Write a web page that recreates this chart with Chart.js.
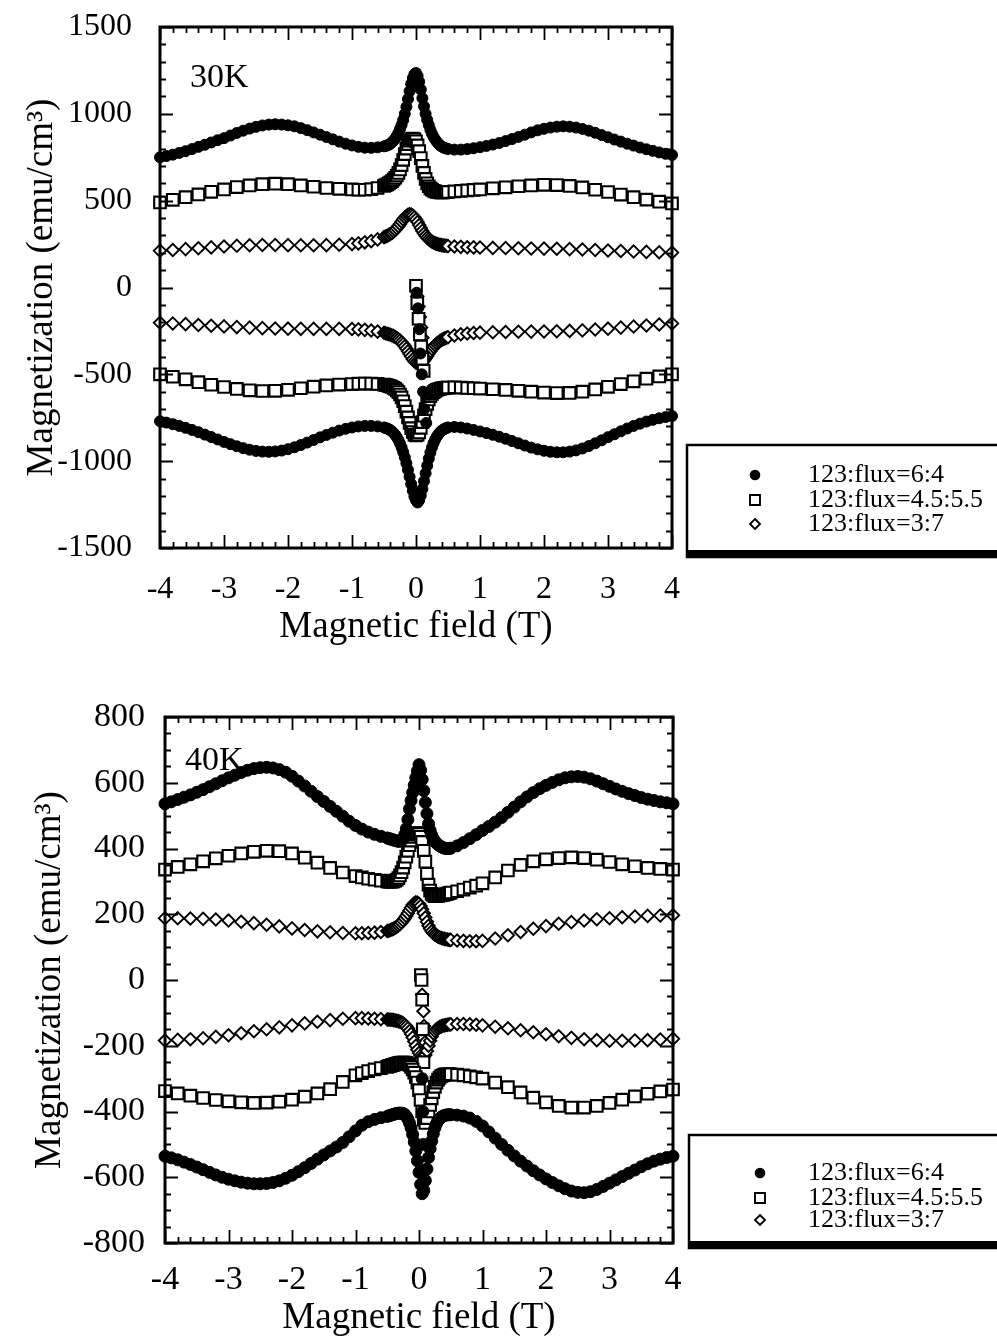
<!DOCTYPE html>
<html>
<head>
<meta charset="utf-8">
<title>Magnetization loops 30K / 40K</title>
<script src="https://cdn.jsdelivr.net/npm/chart.js@4.4.1/dist/chart.umd.min.js"></script>
<style>
  body { margin: 0; background: #fff; width: 997px; height: 1340px; overflow: hidden; position: relative; }
  canvas { position: absolute; left: 0; }
  #c30 { top: 0; }
  #c40 { top: 680px; }
</style>
</head>
<body>
<canvas id="c30" width="997" height="665"></canvas>
<canvas id="c40" width="997" height="660"></canvas>
<script>
// ---------------- DATA ----------------
const seriesNames = ["123:flux=6:4", "123:flux=4.5:5.5", "123:flux=3:7"];
const xTicks = [-4, -3, -2, -1, 0, 1, 2, 3, 4];
const yTicks30 = [-1500, -1000, -500, 0, 500, 1000, 1500];
const yTicks40 = [-800, -600, -400, -200, 0, 200, 400, 600, 800];

// field grid for the dense (filled circle) runs, in T
const fieldFine = [
  -4, -3.9, -3.8, -3.7, -3.6, -3.5, -3.4, -3.3, -3.2, -3.1, -3, -2.9, -2.8, -2.7, -2.6, -2.5, -2.4, -2.3, -2.2, -2.1, -2, -1.9, -1.8, -1.7, -1.6, -1.5, -1.4, -1.3, -1.2, -1.1,
  -1, -0.9, -0.8, -0.7, -0.6,
  -0.5, -0.475, -0.45, -0.425, -0.4, -0.375, -0.35, -0.325, -0.3, -0.275, -0.25, -0.225, -0.2, -0.175, -0.15, -0.125, -0.1, -0.075, -0.05, -0.025, 0,
  0.025, 0.05, 0.075, 0.1, 0.125, 0.15, 0.175, 0.2, 0.225, 0.25, 0.275, 0.3, 0.325, 0.35, 0.375, 0.4, 0.425, 0.45, 0.475, 0.5,
  0.6, 0.7, 0.8, 0.9, 1,
  1.1, 1.2, 1.3, 1.4, 1.5, 1.6, 1.7, 1.8, 1.9, 2, 2.1, 2.2, 2.3, 2.4, 2.5, 2.6, 2.7, 2.8, 2.9, 3, 3.1, 3.2, 3.3, 3.4, 3.5, 3.6, 3.7, 3.8, 3.9, 4
];
// field grid for the open square / diamond runs, in T
const fieldCoarse = [
  -4, -3.8, -3.6, -3.4, -3.2, -3, -2.8, -2.6, -2.4, -2.2, -2, -1.8, -1.6, -1.4, -1.2,
  -1, -0.9, -0.8, -0.7, -0.6,
  -0.5, -0.475, -0.45, -0.425, -0.4, -0.375, -0.35, -0.325, -0.3, -0.275, -0.25, -0.225, -0.2, -0.175, -0.15, -0.125, -0.1, -0.075, -0.05, -0.025, 0,
  0.025, 0.05, 0.075, 0.1, 0.125, 0.15, 0.175, 0.2, 0.225, 0.25, 0.275, 0.3, 0.325, 0.35, 0.375, 0.4, 0.425, 0.45, 0.475, 0.5,
  0.6, 0.7, 0.8, 0.9, 1,
  1.2, 1.4, 1.6, 1.8, 2, 2.2, 2.4, 2.6, 2.8, 3, 3.2, 3.4, 3.6, 3.8, 4
];

// ---- 30K (emu/cm3) ----
const circ30Up = [
  750, 757, 765, 775, 785, 797, 810, 822, 835, 848, 860, 875, 890, 903, 915, 925, 933, 938, 940, 938, 934, 928, 918, 906, 893, 880, 866, 853, 840, 828,
  818, 810, 805, 804, 807,
  813, 815, 818, 822, 828, 836, 845, 857, 872, 890, 912, 936, 965, 1000, 1040, 1085, 1130, 1172, 1205, 1228, 1235,
  1218, 1185, 1140, 1090, 1043, 1000, 965, 935, 908, 885, 867, 852, 839, 828, 819, 812, 807, 803, 800, 798,
  794, 794, 797, 802, 808,
  815, 823, 832, 843, 855, 867, 880, 893, 905, 914, 921, 926, 928, 926, 921, 913, 903, 891, 878, 865, 852, 840, 828, 817, 806, 796, 787, 778, 770, 763
];
const circ30Down = [
  -770, -778, -787, -797, -808, -820, -833, -847, -861, -875, -889, -902, -914, -925, -934, -941, -945, -946, -944, -939, -931, -920, -907, -893, -878, -863, -849, -836, -824, -814,
  -806, -800, -797, -797, -800,
  -806, -809, -812, -816, -822, -829, -838, -849, -862, -878, -898, -921, -948, -978, -1012, -1050, -1090, -1132, -1170, -1203, -1225,
  -1238, -1225, -1197, -1160, -1115, -1070, -1026, -985, -950, -920, -895, -875, -858, -845, -834, -825, -818, -813, -809, -806,
  -803, -806, -812, -820, -829,
  -838, -848, -859, -871, -884, -897, -910, -922, -932, -940, -946, -949, -949, -945, -938, -927, -913, -897, -880, -862, -845, -828, -812, -797, -784, -772, -762, -753, -746, -740
];
const sq30Up = [
  490, 505, 520, 536, 551, 565, 578, 588, 595, 598, 595, 588, 580, 573, 568,
  565, 563, 563, 566, 573,
  585, 589, 594, 600, 606, 613, 622, 632, 645, 660, 680, 705, 735, 768, 800, 826, 845, 855, 858, 853, 842,
  818, 785, 745, 700, 660, 625, 600, 583, 571, 563, 557, 553, 551, 549, 548, 548, 548, 549, 549, 550,
  553, 556, 559, 562, 565,
  571, 577, 583, 588, 591, 590, 585, 576, 563, 550, 535, 520, 506, 494, 484
];
const sq30Down = [
  -500, -514, -529, -545, -560, -573, -584, -592, -596, -595, -589, -580, -571, -564, -559,
  -556, -554, -553, -553, -555,
  -559, -561, -563, -566, -569, -573, -578, -584, -592, -602, -616, -633, -655, -683, -715, -748, -780, -810, -832, -847, -852,
  -848, -835, -808, -775, -738, -700, -670, -645, -626, -612, -602, -595, -590, -586, -583, -581, -579, -578, -577, -576,
  -575, -576, -578, -580, -582,
  -586, -590, -595, -600, -605, -608, -607, -600, -587, -572, -556, -540, -525, -512, -500
];
const dia30Up = [
  212, 216, 221, 226, 231, 236, 240, 243, 245, 245, 244, 243, 243, 244, 246,
  250, 254, 260, 267, 277,
  290, 294, 298, 303, 308, 314, 322, 331, 342, 353, 366, 379, 392, 403, 412, 419, 422, 420, 414, 404, 392,
  377, 360, 343, 326, 311, 298, 287, 278, 270, 264, 259, 254, 251, 248, 246, 244, 242, 241, 240, 239,
  236, 234, 232, 231, 230,
  228, 227, 226, 225, 224, 223, 221, 219, 216, 213, 210, 207, 205, 203, 201
];
const dia30Down = [
  -203, -207, -211, -216, -220, -224, -228, -231, -234, -236, -237, -238, -238, -238, -238,
  -239, -241, -244, -248, -254,
  -261, -263, -266, -269, -272, -276, -280, -285, -291, -298, -306, -315, -326, -338, -352, -367, -383, -398, -413, -425, -433,
  -438, -440, -437, -430, -420, -408, -394, -380, -367, -354, -342, -332, -323, -315, -308, -302, -297, -293, -289, -286,
  -276, -269, -265, -262, -260,
  -258, -256, -255, -254, -253, -252, -250, -247, -242, -237, -231, -225, -219, -213, -207
];
// initial (virgin) runs starting from zero field
const virginCircField30 = [0.01, 0.03, 0.05, 0.07, 0.09, 0.11, 0.13, 0.16];
const virginCirc30 = [-30, -120, -240, -380, -500, -600, -700, -780];
const virginSqField30 = [0, 0.02, 0.04, 0.06, 0.08, 0.1, 0.12];
const virginSq30 = [10, -90, -180, -270, -340, -410, -480];
const virginDiaField30 = [0.02, 0.04, 0.06, 0.08, 0.1, 0.12];
const virginDia30 = [-50, -110, -170, -230, -290, -340];

// ---- 40K (emu/cm3) ----
const circ40Up = [
  536, 542, 549, 556, 563, 571, 579, 588, 597, 606, 615, 623, 631, 638, 643, 646, 647, 645, 640, 632, 620, 605, 590, 574, 558, 543, 528, 513, 498, 483,
  470, 459, 450, 443, 437,
  432, 430, 429, 427, 426, 424, 423, 422, 422, 424, 430, 442, 460, 488, 520, 546, 570, 593, 615, 636, 655,
  638, 610, 576, 540, 506, 475, 455, 440, 430, 422, 416, 412, 408, 405, 403, 401, 400, 400, 400, 401,
  408, 418, 430, 442, 455,
  467, 480, 494, 510, 526, 542, 557, 570, 582, 592, 601, 609, 615, 618, 619, 617, 612, 605, 597, 589, 581, 574, 567, 561, 555, 550, 546, 542, 539, 536
];
const circ40Down = [
  -536, -541, -547, -554, -561, -569, -577, -585, -593, -600, -606, -611, -615, -618, -620, -620, -619, -616, -611, -603, -594, -583, -571, -558, -545, -532, -520, -508, -494, -477,
  -459, -442, -431, -424, -419,
  -415, -413, -412, -410, -409, -407, -406, -405, -405, -405, -406, -409, -415, -423, -435, -450, -470, -493, -520, -550, -585,
  -622, -650, -640, -610, -575, -540, -513, -490, -468, -450, -437, -428, -422, -417, -414, -412, -411, -410, -410, -410,
  -411, -414, -420, -430, -444,
  -462, -481, -500, -518, -535, -551, -566, -580, -593, -605, -616, -626, -635, -642, -646, -647, -644, -637, -628, -618, -608, -598, -588, -578, -568, -559, -551, -545, -540, -536
];
const sq40Up = [
  336, 344, 352, 361, 370, 378, 385, 390, 393, 392, 385, 372, 357, 341, 327,
  316, 312, 308, 305, 302,
  300, 299, 299, 299, 300, 302, 305, 310, 318, 328, 342, 358, 375, 393, 410, 424, 435, 442, 446, 447, 445,
  436, 420, 393, 360, 323, 290, 272, 262, 257, 255, 255, 256, 257, 258, 259, 260, 261, 263, 264, 266,
  270, 275, 281, 287, 294,
  312, 333, 350, 361, 367, 371, 373, 371, 366, 359, 352, 346, 341, 338, 336
];
const sq40Down = [
  -338, -345, -352, -359, -365, -369, -372, -374, -373, -370, -364, -355, -345, -332, -310,
  -290, -283, -277, -272, -268,
  -264, -262, -261, -259, -258, -256, -255, -253, -252, -251, -251, -251, -252, -254, -258, -264, -272, -282, -295, -312, -335,
  -365, -400, -425, -435, -420, -400, -380, -360, -341, -325, -312, -303, -297, -292, -290, -288, -287, -287, -287, -287,
  -288, -290, -293, -296, -300,
  -312, -326, -342, -358, -372, -383, -388, -388, -383, -374, -364, -354, -346, -339, -333
];
const dia40Up = [
  188, 188, 187, 186, 184, 181, 177, 173, 168, 163, 157, 152, 148, 145, 143,
  142, 142, 143, 144, 146,
  149, 150, 152, 154, 156, 159, 162, 166, 170, 175, 181, 188, 195, 203, 212, 220, 228, 233, 236, 235, 232,
  225, 215, 203, 190, 177, 165, 156, 148, 142, 138, 135, 132, 130, 128, 126, 125, 124, 123, 122, 122,
  120, 119, 118, 118, 119,
  126, 136, 146, 156, 164, 171, 176, 181, 185, 188, 191, 193, 195, 196, 197
];
const dia40Down = [
  -184, -182, -180, -177, -173, -168, -162, -156, -150, -144, -138, -132, -127, -122, -118,
  -116, -116, -117, -118, -119,
  -120, -120, -121, -121, -122, -123, -124, -125, -127, -129, -132, -136, -141, -147, -155, -164, -175, -187, -200, -212, -222,
  -230, -234, -233, -228, -216, -200, -185, -172, -162, -155, -150, -146, -143, -141, -139, -138, -137, -136, -135, -135,
  -134, -134, -135, -136, -138,
  -142, -147, -153, -159, -165, -171, -176, -180, -183, -185, -185, -184, -183, -181, -179
];
const virginCircField40 = [0.05, 0.06, 0.07, 0.08];
const virginCirc40 = [-300, -400, -500, -580];
const virginSqField40 = [0.03, 0.04, 0.05, 0.06, 0.07];
const virginSq40 = [15, 0, -60, -150, -250];
const virginDiaField40 = [0.05, 0.07, 0.08, 0.09];
const virginDia40 = [-45, -95, -140, -190];

// ---------------- HELPERS ----------------
const serif = "'Liberation Serif', 'Times New Roman', Times, serif";

function pts(xs, ys) {
  return xs.map((x, i) => ({ x: x, y: ys[i] }));
}

function markerStyle(kind, r) {
  if (kind === 'circle') {
    return { pointStyle: 'circle', pointRadius: r, pointBackgroundColor: '#000', pointBorderColor: '#000', pointBorderWidth: 1 };
  }
  if (kind === 'rect') {
    return { pointStyle: 'rect', pointRadius: r, pointBackgroundColor: '#fff', pointBorderColor: '#000', pointBorderWidth: 2.1 };
  }
  return { pointStyle: 'rectRot', pointRadius: r, pointBackgroundColor: '#fff', pointBorderColor: '#000', pointBorderWidth: 1.9 };
}

// frame with inward ticks on all four sides, plus the temperature tag
const framePlugin = {
  id: 'frame',
  afterDatasetsDraw(chart, args, o) {
    const { ctx, chartArea: a, scales } = chart;
    const x = scales.x, y = scales.y;
    ctx.save();
    ctx.strokeStyle = '#000';
    ctx.lineWidth = 1.8;
    ctx.beginPath();
    for (let v = x.min; v <= x.max + 1e-9; v += o.xMinor) {
      const p = Math.round(x.getPixelForValue(v)) + 0.5;
      const major = Math.abs(v / o.xMajor - Math.round(v / o.xMajor)) < 1e-6;
      const len = major ? 13 : 6;
      ctx.moveTo(p, a.bottom); ctx.lineTo(p, a.bottom - len);
      ctx.moveTo(p, a.top); ctx.lineTo(p, a.top + len);
    }
    for (let v = y.min; v <= y.max + 1e-9; v += o.yMinor) {
      const p = Math.round(y.getPixelForValue(v)) + 0.5;
      const major = Math.abs(v / o.yMajor - Math.round(v / o.yMajor)) < 1e-6;
      const len = major ? 13 : 6;
      ctx.moveTo(a.left, p); ctx.lineTo(a.left + len, p);
      ctx.moveTo(a.right, p); ctx.lineTo(a.right - len, p);
    }
    ctx.stroke();
    ctx.lineWidth = 3;
    ctx.strokeRect(a.left, a.top, a.right - a.left, a.bottom - a.top);

    ctx.fillStyle = '#000';
    ctx.font = o.tagSize + 'px ' + serif;
    ctx.textBaseline = 'alphabetic';
    ctx.fillText(o.tag, o.tagX, o.tagY);
    ctx.restore();
  }
};

// boxed legend to the right of the plot
const boxLegendPlugin = {
  id: 'boxLegend',
  afterDraw(chart, args, o) {
    const ctx = chart.ctx;
    ctx.save();
    ctx.strokeStyle = '#000';
    ctx.lineWidth = 2.5;
    ctx.strokeRect(o.left, o.top, 400, o.bottom - o.top);
    ctx.fillStyle = '#000';
    ctx.fillRect(o.left - 1, o.bottom - 7, 400, 8);

    ctx.font = o.fontSize + 'px ' + serif;
    ctx.textBaseline = 'middle';
    ctx.textAlign = 'left';
    seriesNames.forEach((name, i) => {
      const mx = o.markX, my = o.rows[i];
      ctx.beginPath();
      ctx.lineWidth = 1.9;
      if (i === 0) {
        ctx.arc(mx, my, 5.3, 0, Math.PI * 2);
        ctx.fillStyle = '#000';
        ctx.fill();
      } else if (i === 1) {
        ctx.rect(mx - 5, my - 5, 10, 10);
        ctx.stroke();
      } else {
        ctx.moveTo(mx, my - 5); ctx.lineTo(mx + 5, my); ctx.lineTo(mx, my + 5); ctx.lineTo(mx - 5, my);
        ctx.closePath();
        ctx.stroke();
      }
      ctx.fillStyle = '#000';
      ctx.fillText(name, o.textX, my);
    });
    ctx.restore();
  }
};

function buildChart(canvasId, d) {
  const kinds = ['circle', 'rect', 'rectRot'];
  const datasets = [];
  d.runs.forEach((run, s) => {
    const st = markerStyle(kinds[s], d.radius[s]);
    run.forEach(part => {
      datasets.push(Object.assign({ label: seriesNames[s], data: pts(part[0], part[1]), showLine: false, clip: false, order: s }, st));
    });
  });

  return new Chart(document.getElementById(canvasId), {
    type: 'scatter',
    data: { datasets: datasets },
    options: {
      responsive: false,
      animation: false,
      events: [],
      layout: { padding: { top: d.padTop, right: d.padRight, left: 0, bottom: 0 } },
      scales: {
        x: {
          type: 'linear', min: -4, max: 4,
          afterBuildTicks: s => { s.ticks = xTicks.map(v => ({ value: v })); },
          ticks: { padding: d.xTickPad, color: '#000', font: { family: serif, size: d.tickSize }, maxRotation: 0, autoSkip: false, callback: v => String(v) },
          grid: { display: false, drawTicks: false },
          border: { display: false },
          title: { display: true, text: 'Magnetic field (T)', color: '#000', font: { family: serif, size: 37 }, padding: { top: 0, bottom: d.xTitlePad } },
          afterFit: s => { s.height = d.xAxisH; s.paddingLeft = 0; s.paddingRight = 0; }
        },
        y: {
          type: 'linear', min: d.yTicks[0], max: d.yTicks[d.yTicks.length - 1],
          afterBuildTicks: s => { s.ticks = d.yTicks.map(v => ({ value: v })); },
          ticks: { padding: d.yTickPad, color: '#000', font: { family: serif, size: d.tickSize }, autoSkip: false, callback: v => String(v) },
          grid: { display: false, drawTicks: false },
          border: { display: false },
          title: { display: true, text: 'Magnetization (emu/cm³)', color: '#000', font: { family: serif, size: 37 }, padding: { top: d.yTitlePad, bottom: 0 } },
          afterFit: s => { s.width = d.yAxisW; s.paddingTop = 0; s.paddingBottom = 0; }
        }
      },
      plugins: {
        legend: { display: false },
        tooltip: { enabled: false },
        frame: d.frame,
        boxLegend: d.legend
      }
    },
    plugins: [framePlugin, boxLegendPlugin]
  });
}

// ---------------- 30K ----------------
buildChart('c30', {
  yTicks: yTicks30,
  radius: [5.5, 8.2, 6.2],
  padTop: 27, padRight: 325, yAxisW: 160, xAxisH: 117,
  tickSize: 32, xTickPad: 22, yTickPad: 28, xTitlePad: 16, yTitlePad: 20,
  runs: [
    [[fieldFine, circ30Up], [fieldFine, circ30Down], [virginCircField30, virginCirc30]],
    [[fieldCoarse, sq30Up], [fieldCoarse, sq30Down], [virginSqField30, virginSq30]],
    [[fieldCoarse, dia30Up], [fieldCoarse, dia30Down], [virginDiaField30, virginDia30]]
  ],
  frame: { xMajor: 1, xMinor: 0.2, yMajor: 500, yMinor: 100, tag: '30K', tagX: 190, tagY: 87, tagSize: 34 },
  legend: { left: 687, top: 445, bottom: 557, markX: 755, rows: [475, 500, 524], textX: 808, fontSize: 26 }
});

// ---------------- 40K ----------------
buildChart('c40', {
  yTicks: yTicks40,
  radius: [6, 8.2, 6.2],
  padTop: 37, padRight: 324, yAxisW: 165, xAxisH: 97,
  tickSize: 34, xTickPad: 17, yTickPad: 20, xTitlePad: 0, yTitlePad: 28,
  runs: [
    [[fieldFine, circ40Up], [fieldFine, circ40Down], [virginCircField40, virginCirc40]],
    [[fieldCoarse, sq40Up], [fieldCoarse, sq40Down], [virginSqField40, virginSq40]],
    [[fieldCoarse, dia40Up], [fieldCoarse, dia40Down], [virginDiaField40, virginDia40]]
  ],
  frame: { xMajor: 1, xMinor: 0.2, yMajor: 200, yMinor: 50, tag: '40K', tagX: 185, tagY: 90, tagSize: 34 },
  legend: { left: 689, top: 455, bottom: 568, markX: 760, rows: [493, 518, 540], textX: 808, fontSize: 26 }
});
</script>
</body>
</html>
